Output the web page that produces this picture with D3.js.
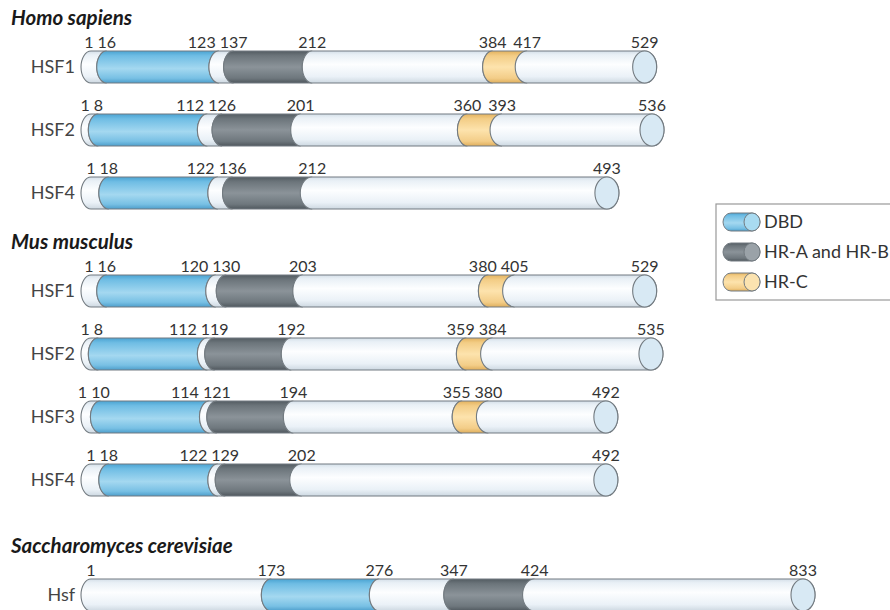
<!DOCTYPE html>
<html>
<head>
<meta charset="utf-8">
<script src="https://cdn.jsdelivr.net/npm/d3@7"></script>
<style>
  html, body { margin: 0; padding: 0; background: #fff; }
  svg { display: block; }
</style>
</head>
<body>
<div id="chart"></div>
<script>
// organisms and proteins (residue numbers)
const organisms = ["Homo sapiens", "Mus musculus", "Saccharomyces cerevisiae"];
const proteinNames = ["HSF1", "HSF2", "HSF4", "HSF1", "HSF2", "HSF3", "HSF4", "Hsf"];
const proteinOrganism = [0, 0, 0, 1, 1, 1, 1, 2];
const proteinLength = [529, 536, 493, 529, 535, 492, 492, 833];
const dbdStart = [16, 8, 18, 16, 8, 10, 18, 173];
const dbdEnd = [123, 112, 122, 120, 112, 114, 122, 276];
const hrabStart = [137, 126, 136, 130, 119, 121, 129, 347];
const hrabEnd = [212, 201, 212, 203, 192, 194, 202, 424];
const hrcStart = [384, 360, null, 380, 359, 355, null, null];
const hrcEnd = [417, 393, null, 405, 384, 380, null, null];

const legendKeys = ["dbd", "hrab", "hrc"];
const legendLabels = ["DBD", "HR-A and HR-B", "HR-C"];

const width = 890, height = 610;

// schematic scale: long yeast C-terminus is drawn compressed
const x = d3.scaleLinear()
    .domain([1, 536, 833])
    .range([91, 652, 803]);

const barH = 32, rx = 10, endRx = 12;
const rowStep = 63;
const groupGap = [0, 56, 73];   // extra room above each organism heading
const headToBar = 42;

const fills = {
    plain: [["0", "#d4dfe8"], ["0.12", "#e9f0f6"], ["0.42", "#fdfeff"], ["0.8", "#eaf1f7"], ["1", "#cdd8e1"]],
    dbd: [["0", "#4aa3d2"], ["0.15", "#6fbde4"], ["0.55", "#a4d8f0"], ["0.85", "#78c0e4"], ["1", "#4d9ecb"]],
    hrab: [["0", "#535c62"], ["0.15", "#6c757b"], ["0.5", "#8b9399"], ["0.85", "#6e777d"], ["1", "#50585e"]],
    hrc: [["0", "#e3b25e"], ["0.15", "#f3cd86"], ["0.5", "#fde3ad"], ["0.85", "#f3cd88"], ["1", "#dfae5c"]]
};
const faceFill = { plain: "#d8e9f4", dbd: "#a9dbf1", hrab: "#9aa2a8", hrc: "#fbe3b0" };
const strokeCol = "#737b81";

const svg = d3.select("#chart")
    .append("svg")
    .attr("width", width)
    .attr("height", height);

const defs = svg.append("defs");
Object.keys(fills).forEach(k => {
    const g = defs.append("linearGradient")
        .attr("id", "grad-" + k)
        .attr("x1", 0).attr("y1", 0).attr("x2", 0).attr("y2", 1);
    fills[k].forEach(s => g.append("stop").attr("offset", s[0]).attr("stop-color", s[1]));
});

// one cylinder slice: left edge is a cut (left half-ellipse), right edge either the next cut or the rounded end
function slicePath(pa, pb, cy, h, r, last) {
    const top = cy - h / 2, bot = cy + h / 2, ry = h / 2;
    return `M${pa},${top} L${pb},${top} ` +
        `A${r},${ry} 0 0 ${last ? 1 : 0} ${pb},${bot} ` +
        `L${pa},${bot} A${r},${ry} 0 0 1 ${pa},${top} Z`;
}

// vertical positions
const rowY = [];
let yCur = 0, prevOrg = -1;
const headY = [];
proteinNames.forEach((n, i) => {
    const org = proteinOrganism[i];
    if (org !== prevOrg) {
        const head = (i === 0 ? 25 : yCur + groupGap[org]);
        headY[org] = head;
        yCur = head + headToBar;
        prevOrg = org;
    } else {
        yCur += rowStep;
    }
    rowY.push(yCur);
});

// organism headings
svg.selectAll(".org")
    .data(organisms)
    .enter()
    .append("text")
    .attr("class", "org")
    .attr("x", 11)
    .attr("y", (d, i) => headY[i])
    .style("font-family", "Lato, 'Open Sans', sans-serif")
    .style("font-weight", "bold")
    .style("font-style", "italic")
    .style("font-size", "20.5px")
    .style("fill", "#1a1a1a")
    .text(d => d);

proteinNames.forEach((name, i) => {
    const cy = rowY[i];
    const bounds = [{ aa: 1, type: "plain" },
        { aa: dbdStart[i], type: "dbd" }, { aa: dbdEnd[i], type: "plain" },
        { aa: hrabStart[i], type: "hrab" }, { aa: hrabEnd[i], type: "plain" }];
    if (hrcStart[i] !== null) {
        bounds.push({ aa: hrcStart[i], type: "hrc" }, { aa: hrcEnd[i], type: "plain" });
    }
    const segs = bounds.map((b, k) => ({
        a: b.aa,
        b: k < bounds.length - 1 ? bounds[k + 1].aa : proteinLength[i],
        type: b.type,
        last: k === bounds.length - 1
    }));

    const g = svg.append("g").attr("class", "protein");

    g.append("text")
        .attr("x", 75)
        .attr("y", cy + 6)
        .attr("text-anchor", "end")
        .style("font-family", "Lato, 'Open Sans', sans-serif")
        .style("font-size", "18px")
        .style("fill", "#444")
        .text(name);

    g.selectAll(".seg")
        .data(segs)
        .enter()
        .append("path")
        .attr("class", "seg")
        .attr("d", d => slicePath(x(d.a), x(d.b), cy, barH, d.last ? endRx : rx, d.last))
        .attr("fill", d => `url(#grad-${d.type})`)
        .attr("stroke", strokeCol)
        .attr("stroke-width", 1.1);

    g.append("ellipse")
        .attr("cx", x(proteinLength[i]))
        .attr("cy", cy)
        .attr("rx", endRx)
        .attr("ry", barH / 2)
        .attr("fill", faceFill.plain)
        .attr("stroke", strokeCol)
        .attr("stroke-width", 1.1);

    // residue numbers
    const nums = bounds.map(b => b.aa).concat([proteinLength[i]]);
    const labels = g.selectAll(".num")
        .data(nums)
        .enter()
        .append("text")
        .attr("class", "num")
        .attr("x", d => x(d))
        .attr("y", cy - barH / 2 - 3)
        .attr("text-anchor", "middle")
        .style("font-family", "Lato, 'Open Sans', sans-serif")
        .style("font-size", "16px")
        .style("fill", "#333")
        .text(d => d);

    // push crowded numbers to the left so they sit side by side
    const nodes = labels.nodes();
    const pos = nums.map(d => x(d));
    const w = nodes.map(n => n.getComputedTextLength());
    for (let k = nodes.length - 2; k >= 0; k--) {
        const limit = pos[k + 1] - w[k + 1] / 2 - 4;
        if (pos[k] + w[k] / 2 > limit) pos[k] = limit - w[k] / 2;
    }
    nodes.forEach((n, k) => d3.select(n).attr("x", pos[k]));
});

// legend
const legend = svg.append("g").attr("transform", "translate(716,204)");
legend.append("rect")
    .attr("x", 0).attr("y", 0)
    .attr("width", 200).attr("height", 96)
    .attr("fill", "#fff")
    .attr("stroke", "#999")
    .attr("stroke-width", 1.2);

const item = legend.selectAll(".item")
    .data(legendKeys)
    .enter()
    .append("g")
    .attr("class", "item")
    .attr("transform", (d, i) => `translate(0,${18 + i * 30})`);

item.append("path")
    .attr("d", d => slicePath(15, 36, 0, 18, 8, true))
    .attr("fill", d => `url(#grad-${d})`)
    .attr("stroke", strokeCol)
    .attr("stroke-width", 1);

item.append("ellipse")
    .attr("cx", 36).attr("cy", 0)
    .attr("rx", 8).attr("ry", 9)
    .attr("fill", d => faceFill[d])
    .attr("stroke", strokeCol)
    .attr("stroke-width", 1);

item.append("text")
    .attr("x", 48)
    .attr("y", 6)
    .style("font-family", "Lato, 'Open Sans', sans-serif")
    .style("font-size", "18px")
    .style("fill", "#333")
    .text((d, i) => legendLabels[i]);
</script>
</body>
</html>
